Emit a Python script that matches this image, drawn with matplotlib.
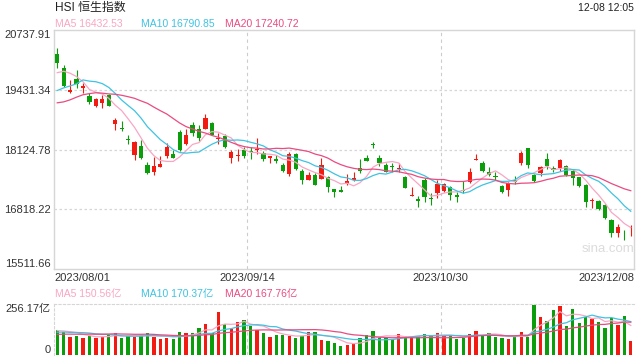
import numpy as np
import pandas as pd
import matplotlib
matplotlib.use('Agg')
import matplotlib.pyplot as plt

plt.rcParams['font.family'] = ['Liberation Sans', 'Noto Sans CJK SC']

# daily candles (HSI, 2023/08/01 .. 2023/12/08)
opens = [20213, 19900, 19382, 19666, 19476, 19301, 19069, 19135, 19316, 18689,
         18601, 18354, 18011, 18201, 17786, 17639, 17749, 17989, 18026, 18514,
         18245, 18667, 18566, 18573, 18711, 18354, 18420, 17945, 17983, 18114,
         18085, 18114, 18041, 17945, 17917, 17786, 17582, 18026, 17655, 17458,
         17567, 17486, 17523, 17261, 17239, 17364, 17458, 17714, 17932, 18238,
         17932, 17786, 17770, 17692, 17523, 17108, 17042, 17458, 17064, 17167,
         17217, 17311, 17130, 17239, 17407, 17902, 17823, 17639, 17545, 17326,
         17239, 17458, 17836, 18151, 17567, 17617, 17910, 17714, 17714, 17764,
         17655, 17517, 17348, 16998, 16998, 16904, 16583, 16305, 16371, 16358]
highs = [20338, 19979, 19645, 19863, 19585, 19354, 19258, 19316, 19338, 18807,
         18748, 18442, 18311, 18333, 17858, 17954, 17983, 18260, 18114, 18551,
         18566, 18733, 18660, 18901, 18726, 18492, 18457, 18114, 18129, 18186,
         18186, 18367, 18092, 17990, 17998, 17823, 18063, 18055, 17692, 17640,
         17604, 17932, 17552, 17265, 17326, 17582, 17626, 17910, 18004, 18289,
         18004, 17823, 17823, 17823, 17545, 17298, 17114, 17508, 17167, 17458,
         17399, 17326, 17202, 17443, 17714, 18020, 17873, 17735, 17626, 17348,
         17421, 17545, 18098, 18151, 17589, 17764, 18041, 17764, 17910, 17786,
         17692, 17530, 17364, 17057, 17020, 16933, 16598, 16489, 16371, 16474]
lows = [19900, 19485, 19367, 19463, 19354, 19120, 19061, 19026, 19076, 18551,
        18523, 18244, 17895, 17910, 17582, 17567, 17735, 17932, 17932, 18098,
        18223, 18427, 18311, 18566, 18431, 18238, 18164, 17836, 17880, 17945,
        17917, 18026, 17880, 17823, 17823, 17626, 17552, 17676, 17370, 17450,
        17342, 17473, 17202, 17079, 17195, 17348, 17436, 17617, 17866, 18164,
        17764, 17633, 17639, 17639, 17276, 17105, 16874, 16983, 16911, 17071,
        17202, 17020, 16970, 17167, 17386, 17902, 17639, 17545, 17458, 17167,
        17114, 17370, 17786, 17727, 17407, 17545, 17698, 17639, 17661, 17552,
        17348, 17298, 16874, 16852, 16802, 16598, 16205, 16205, 16146, 16233]
closes = [20023, 19520, 19426, 19551, 19513, 19170, 19229, 19229, 19083, 18763,
          18573, 18333, 18289, 17945, 17617, 17764, 17808, 18186, 17945, 18114,
          18442, 18492, 18383, 18814, 18448, 18383, 18173, 18070, 18011, 17989,
          18070, 18142, 17924, 17983, 17880, 17648, 18026, 17698, 17458, 17567,
          17355, 17786, 17311, 17202, 17202, 17436, 17501, 17661, 17873, 18223,
          17823, 17639, 17749, 17714, 17283, 17123, 16998, 17093, 17036, 17363,
          17363, 17130, 17093, 17210, 17626, 17917, 17661, 17567, 17517, 17189,
          17386, 17421, 18055, 17786, 17436, 17735, 17770, 17685, 17895, 17567,
          17508, 17326, 16983, 17020, 16817, 16627, 16305, 16423, 16358, 16371]
# turnover, 亿
volumes = [126, 118, 92, 96, 87, 96, 87, 92, 101, 111,
           87, 96, 92, 99, 110, 92, 82, 87, 81, 116,
           111, 111, 136, 158, 113, 214, 155, 131, 168, 177,
           146, 125, 111, 91, 101, 101, 96, 87, 94, 118,
           118, 76, 71, 62, 47, 50, 56, 86, 99, 121,
           89, 87, 81, 106, 96, 92, 94, 106, 97, 111,
           97, 96, 82, 87, 106, 121, 97, 111, 92, 86,
           81, 92, 118, 92, 253, 192, 172, 227, 247, 146,
           232, 163, 190, 182, 167, 138, 185, 152, 197, 71]
# sessions before the window, only used to seed the moving averages
prev_closes = [19110, 18533, 18365, 18479, 18659, 18860, 19413, 19414, 18915, 19015,
               18952, 19000, 19075, 18668, 19434, 19365, 19639, 19916, 20078]
prev_volumes = [95, 88, 102, 90, 85, 98, 93, 80, 87, 110, 104, 112, 100, 96, 115, 128, 110, 118, 132]

price_ticks = ['20737.91', '19431.34', '18124.78', '16818.22', '15511.66']
vol_top = 256.17
date_labels = ['2023/08/01', '2023/09/14', '2023/10/30', '2023/12/08']
date_idx = [0, 30, 60, 89]
ma_periods = [5, 10, 20]
ma_last = ['16432.53', '16790.85', '17240.72']
vol_ma_last = ['150.56', '170.37', '167.76']
ma_colors = ['#f8a6c4', '#3ec3e2', '#ea4b80']

up_color = '#f21b12'
down_color = '#0b9d0b'
grid_color = '#d6d6d6'
text_color = '#333333'

n = len(closes)
x = np.arange(n)
o = np.array(opens, float)
c = np.array(closes, float)
colors = [up_color if cc >= oo else down_color for oo, cc in zip(o, c)]

full_close = pd.Series(prev_closes + closes, dtype=float)
full_vol = pd.Series(prev_volumes + volumes, dtype=float)
price_ma = [full_close.rolling(p).mean().values[-n:] for p in ma_periods]
vol_ma = [full_vol.rolling(p).mean().values[-n:] for p in ma_periods]

fig = plt.figure(figsize=(6.4, 3.6), dpi=100)
ax = fig.add_axes([54/640, 1-269/360, 580/640, 239/360])
axv = fig.add_axes([54/640, 1-355/360, 580/640, 51/360])

# candles
ax.vlines(x, lows, highs, colors=colors, linewidth=0.8, zorder=3)
ax.bar(x, np.maximum(np.abs(c-o), 12), bottom=np.minimum(o, c), width=0.64,
       color=colors, linewidth=0, zorder=3)
for ma, col in zip(price_ma, ma_colors):
    ax.plot(x, ma, color=col, linewidth=0.9, zorder=4)

yvals = [float(v) for v in price_ticks]
ax.set_ylim(yvals[-1], yvals[0])
ax.set_xlim(-0.5, n-0.5)
ax.set_yticks(yvals)
ax.set_yticklabels(price_ticks)
for v in yvals[1:-1]:
    ax.axhline(v, color=grid_color, linewidth=0.9, linestyle=(0, (2, 2)), zorder=1)
ytl = ax.get_yticklabels()
ytl[0].set_verticalalignment('top')
ytl[-1].set_verticalalignment('bottom')

xpos = [i - 0.5 for i in date_idx[:-1]] + [date_idx[-1] + 0.5]
ax.set_xticks(xpos)
ax.set_xticklabels(date_labels)
xtl = ax.get_xticklabels()
xtl[0].set_horizontalalignment('left')
xtl[-1].set_horizontalalignment('right')
for xp in xpos[1:-1]:
    ax.axvline(xp, color='#cccccc', linewidth=0.8, linestyle=(0, (3, 3)), zorder=1)
    axv.axvline(xp, color='#cccccc', linewidth=0.8, linestyle=(0, (3, 3)), zorder=1)
ax.tick_params(length=0, labelsize=8, colors=text_color)
ax.tick_params(axis='y', pad=2.5)
ax.tick_params(axis='x', pad=3)
for s in ax.spines.values():
    s.set_color(grid_color)
    s.set_linewidth(1)

fig.text(582/640, 1-249/360, 'sina.com', fontsize=9.5, color='#dcdcdc',
         ha='left', va='center')

# volume panel
axv.bar(x, volumes, width=0.52, color=colors, linewidth=0, zorder=3)
for ma, col in zip(vol_ma, ma_colors):
    axv.plot(x, ma, color=col, linewidth=0.9, zorder=4)
axv.set_xlim(-0.5, n-0.5)
axv.set_ylim(0, vol_top)
axv.set_xticks([])
axv.set_yticks([0, vol_top])
axv.set_yticklabels(['0', f'{vol_top:.2f}亿'])
vtl = axv.get_yticklabels()
vtl[0].set_verticalalignment('bottom')
vtl[1].set_verticalalignment('top')
axv.tick_params(length=0, labelsize=8, colors=text_color, pad=2.5)
axv.spines['right'].set_visible(False)
axv.spines['bottom'].set_visible(False)
axv.spines['top'].set_linestyle((0, (2, 2)))
axv.spines['left'].set_linestyle((0, (2, 2)))
for s in ('top', 'left'):
    axv.spines[s].set_color(grid_color)

# header texts
fig.text(55/640, 1-8/360, 'HSI 恒生指数', fontsize=8.6, color='#222222', va='center')
fig.text(634/640, 1-8/360, '12-08 12:05', fontsize=7.5, color='#222222', va='center', ha='right')
leg_x = [55, 140.7, 225.3]
for p, last, vlast, col, lx in zip(ma_periods, ma_last, vol_ma_last, ma_colors, leg_x):
    fig.text(lx/640, 1-24/360, f'MA{p} {last}', fontsize=7.5, color=col, va='center')
    fig.text(lx/640, 1-294.5/360, f'MA{p} {vlast}亿', fontsize=7.5, color=col, va='center')

fig.savefig('out.png', dpi=100)
